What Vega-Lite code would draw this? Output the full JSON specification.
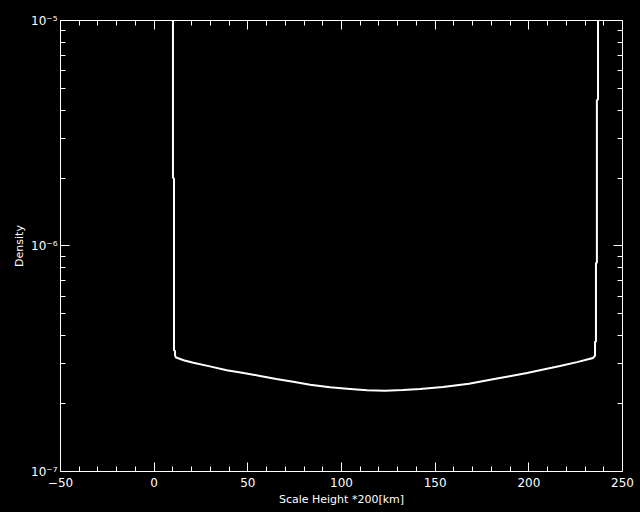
{
  "$schema": "https://vega.github.io/schema/vega-lite/v6.json",
  "width": 562,
  "height": 451,
  "autosize": "none",
  "padding": {"left": 60, "top": 20, "right": 18, "bottom": 41},
  "background": "black",
  "config": {
    "view": {"stroke": null},
    "axis": {
      "domainColor": "white", "tickColor": "white", "labelColor": "white", "titleColor": "white",
      "grid": false, "labelFont": "DejaVu Sans", "titleFont": "DejaVu Sans",
      "labelFontSize": 12, "titleFontSize": 11, "titleFontWeight": "normal", "tickWidth": 1, "domainWidth": 1
    }
  },
  "data": {"values": [
    {"i": 0, "x": 10.3, "d": 1.0e-5},
    {"i": 1, "x": 10.3, "d": 2.0e-6},
    {"i": 2, "x": 10.85, "d": 1.98e-6},
    {"i": 3, "x": 10.85, "d": 3.44e-7},
    {"i": 4, "x": 11.4, "d": 3.40e-7},
    {"i": 5, "x": 11.4, "d": 3.25e-7},
    {"i": 6, "x": 11.9, "d": 3.19e-7},
    {"i": 7, "x": 16.0, "d": 3.10e-7},
    {"i": 8, "x": 21.2, "d": 3.02e-7},
    {"i": 9, "x": 30.0, "d": 2.91e-7},
    {"i": 10, "x": 39.0, "d": 2.80e-7},
    {"i": 11, "x": 48.0, "d": 2.72e-7},
    {"i": 12, "x": 56.8, "d": 2.64e-7},
    {"i": 13, "x": 65.5, "d": 2.56e-7},
    {"i": 14, "x": 74.5, "d": 2.49e-7},
    {"i": 15, "x": 83.5, "d": 2.41e-7},
    {"i": 16, "x": 94.1, "d": 2.35e-7},
    {"i": 17, "x": 104.8, "d": 2.31e-7},
    {"i": 18, "x": 114.0, "d": 2.28e-7},
    {"i": 19, "x": 123.5, "d": 2.27e-7},
    {"i": 20, "x": 133.0, "d": 2.285e-7},
    {"i": 21, "x": 142.2, "d": 2.31e-7},
    {"i": 22, "x": 154.4, "d": 2.36e-7},
    {"i": 23, "x": 168.3, "d": 2.44e-7},
    {"i": 24, "x": 181.1, "d": 2.55e-7},
    {"i": 25, "x": 190.0, "d": 2.63e-7},
    {"i": 26, "x": 199.3, "d": 2.72e-7},
    {"i": 27, "x": 208.0, "d": 2.82e-7},
    {"i": 28, "x": 216.9, "d": 2.92e-7},
    {"i": 29, "x": 226.0, "d": 3.04e-7},
    {"i": 30, "x": 234.5, "d": 3.17e-7},
    {"i": 31, "x": 235.6, "d": 3.25e-7},
    {"i": 32, "x": 235.6, "d": 3.73e-7},
    {"i": 33, "x": 236.1, "d": 3.76e-7},
    {"i": 34, "x": 236.1, "d": 8.34e-7},
    {"i": 35, "x": 236.6, "d": 8.4e-7},
    {"i": 36, "x": 236.6, "d": 4.4e-6},
    {"i": 37, "x": 237.2, "d": 4.45e-6},
    {"i": 38, "x": 237.2, "d": 1.0e-5}
  ]},
  "resolve": {"axis": {"x": "independent", "y": "independent"}},
  "layer": [
    {
      "mark": {"type": "line", "color": "white", "strokeWidth": 2, "clip": true},
      "encoding": {
        "order": {"field": "i", "type": "quantitative"},
        "x": {"field": "x", "type": "quantitative",
          "scale": {"domain": [-50, 250], "nice": false, "zero": false},
          "axis": {"orient": "bottom", "values": [-50, 0, 50, 100, 150, 200, 250], "tickSize": -9, "labelPadding": 15,
            "title": "Scale Height *200[km]", "titlePadding": 5, "labelFlush": false}},
        "y": {"field": "d", "type": "quantitative",
          "scale": {"type": "log", "domain": [1e-7, 1e-5], "nice": false},
          "axis": {"orient": "left", "values": [1e-7, 1e-6, 1e-5], "tickSize": -9, "labelPadding": 12,
            "labelExpr": "'10' + (datum.value < 5e-7 ? '⁻⁷' : datum.value < 5e-6 ? '⁻⁶' : '⁻⁵')",
            "title": "Density", "titlePadding": 6, "labelFlush": false}}
      }
    },
    {
      "mark": {"type": "line", "strokeOpacity": 0},
      "encoding": {
        "order": {"field": "i", "type": "quantitative"},
        "x": {"field": "x", "type": "quantitative",
          "scale": {"domain": [-50, 250], "nice": false, "zero": false},
          "axis": {"orient": "bottom", "values": [-40, -30, -20, -10, 10, 20, 30, 40, 60, 70, 80, 90, 110, 120, 130, 140, 160, 170, 180, 190, 210, 220, 230, 240],
            "tickSize": -5, "labels": false, "domain": false, "title": null}},
        "y": {"field": "d", "type": "quantitative",
          "scale": {"type": "log", "domain": [1e-7, 1e-5], "nice": false},
          "axis": {"orient": "left", "values": [2e-7, 3e-7, 4e-7, 5e-7, 6e-7, 7e-7, 8e-7, 9e-7, 2e-6, 3e-6, 4e-6, 5e-6, 6e-6, 7e-6, 8e-6, 9e-6],
            "tickSize": -5, "labels": false, "domain": false, "title": null}}
      }
    },
    {
      "mark": {"type": "line", "strokeOpacity": 0},
      "encoding": {
        "order": {"field": "i", "type": "quantitative"},
        "x": {"field": "x", "type": "quantitative",
          "scale": {"domain": [-50, 250], "nice": false, "zero": false},
          "axis": {"orient": "top", "values": [-50, 0, 50, 100, 150, 200, 250], "tickSize": -9, "labels": false, "title": null}},
        "y": {"field": "d", "type": "quantitative",
          "scale": {"type": "log", "domain": [1e-7, 1e-5], "nice": false},
          "axis": {"orient": "right", "values": [1e-7, 1e-6, 1e-5], "tickSize": -9, "labels": false, "title": null}}
      }
    },
    {
      "mark": {"type": "line", "strokeOpacity": 0},
      "encoding": {
        "order": {"field": "i", "type": "quantitative"},
        "x": {"field": "x", "type": "quantitative",
          "scale": {"domain": [-50, 250], "nice": false, "zero": false},
          "axis": {"orient": "top", "values": [-40, -30, -20, -10, 10, 20, 30, 40, 60, 70, 80, 90, 110, 120, 130, 140, 160, 170, 180, 190, 210, 220, 230, 240],
            "tickSize": -5, "labels": false, "domain": false, "title": null}},
        "y": {"field": "d", "type": "quantitative",
          "scale": {"type": "log", "domain": [1e-7, 1e-5], "nice": false},
          "axis": {"orient": "right", "values": [2e-7, 3e-7, 4e-7, 5e-7, 6e-7, 7e-7, 8e-7, 9e-7, 2e-6, 3e-6, 4e-6, 5e-6, 6e-6, 7e-6, 8e-6, 9e-6],
            "tickSize": -5, "labels": false, "domain": false, "title": null}}
      }
    }
  ]
}
